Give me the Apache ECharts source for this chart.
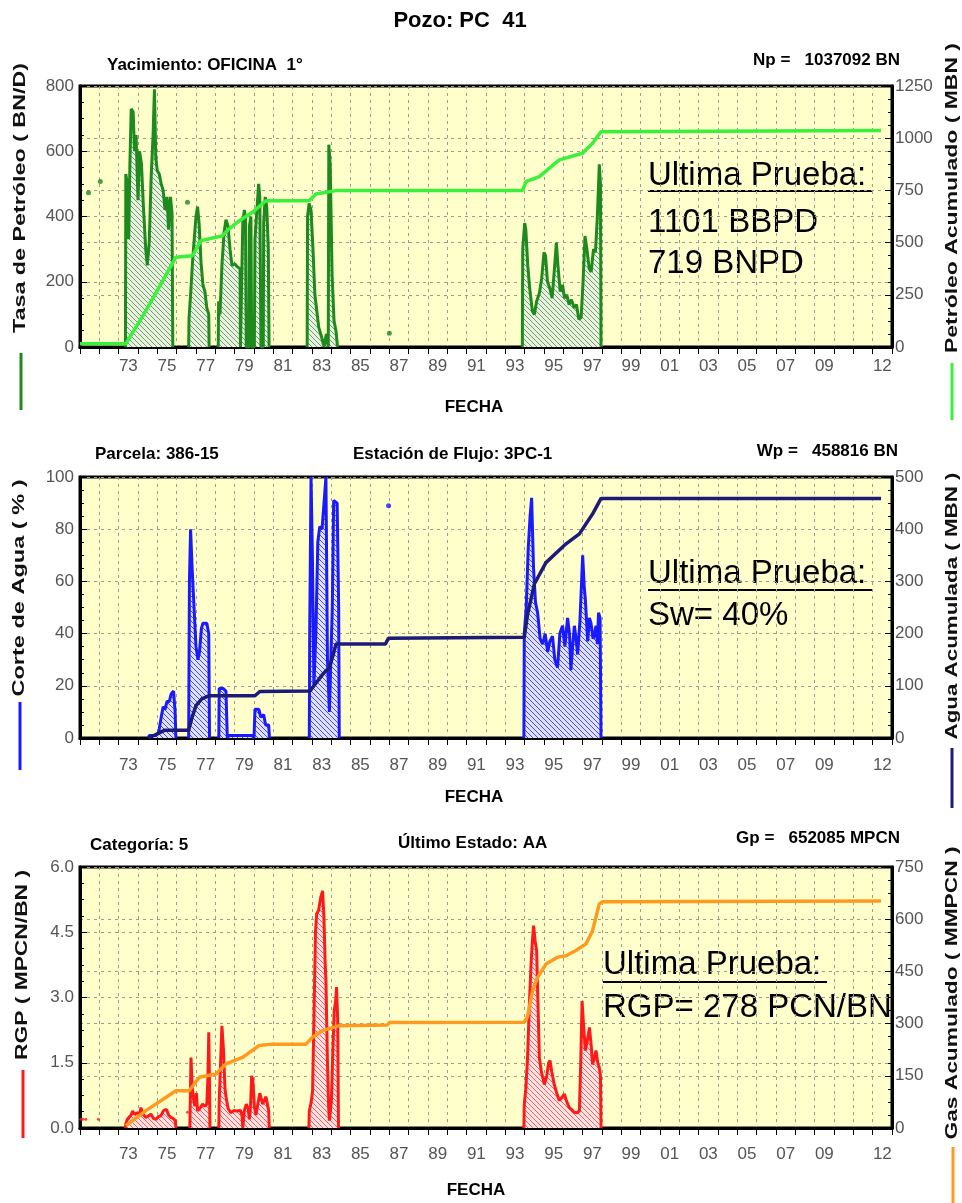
<!DOCTYPE html>
<html lang="es">
<head>
<meta charset="utf-8">
<title>Pozo: PC 41</title>
<script src="https://cdn.jsdelivr.net/npm/echarts@6/dist/echarts.min.js"></script>
<style>
    html, body { margin: 0; padding: 0; background: #fff; }
    #chart { width: 962px; height: 1203px; }
</style>
</head>
<body>
<div id="chart"></div>
<script>
    // ---- eje de fechas ----
    const xLabelYears = [1973, 1975, 1977, 1979, 1981, 1983, 1985, 1987, 1989, 1991, 1993, 1995, 1997, 1999, 2001, 2003, 2005, 2007, 2009, 2012];
    const xLabelText  = ['73', '75', '77', '79', '81', '83', '85', '87', '89', '91', '93', '95', '97', '99', '01', '03', '05', '07', '09', '12'];

    // ---- tasa de petroleo (BN/D), null = sin produccion ----
    const oilYears = [1973.35, 1973.37, 1973.45, 1973.52, 1973.58, 1973.65, 1973.75, 1973.82, 1973.90, 1974.00, 1974.08, 1974.18, 1974.28, 1974.40, 1974.48, 1974.58, 1974.68, 1974.78, 1974.85, 1974.92, 1975.00, 1975.10, 1975.20, 1975.30, 1975.40, 1975.50, 1975.58, 1975.68, 1975.76, 1975.80,
        1976.2,
        1976.62, 1976.64, 1976.72, 1976.82, 1976.92, 1977.00, 1977.08, 1977.16, 1977.26, 1977.36, 1977.46, 1977.56, 1977.66, 1977.68,
        1977.9,
        1978.15, 1978.17, 1978.24, 1978.34, 1978.45, 1978.55, 1978.66, 1978.76, 1978.86, 1979.00, 1979.15, 1979.28, 1979.30,
        1979.40, 1979.42, 1979.50, 1979.56, 1979.60, 1979.74, 1979.76, 1979.84, 1979.88, 1980.02, 1980.05, 1980.15, 1980.24, 1980.30, 1980.36, 1980.48, 1980.50, 1980.58, 1980.66, 1980.74, 1980.78,
        1981.5,
        1982.75, 1982.77, 1982.85, 1982.95, 1983.05, 1983.15, 1983.25, 1983.35, 1983.50, 1983.62, 1983.74, 1983.84, 1983.87, 1983.94, 1984.04, 1984.14, 1984.24, 1984.32,
        1989,
        1993.88, 1993.90, 1994.00, 1994.06, 1994.16, 1994.26, 1994.40, 1994.50, 1994.62, 1994.76, 1994.88, 1995.00, 1995.08, 1995.18, 1995.30, 1995.42, 1995.54, 1995.64, 1995.72, 1995.84, 1995.96, 1996.06, 1996.18, 1996.30, 1996.42, 1996.56, 1996.68, 1996.80, 1996.92, 1997.02, 1997.12, 1997.22, 1997.34, 1997.44, 1997.56, 1997.66, 1997.76, 1997.86, 1997.92, 1997.95];
    const oilRate = [0, 530, 500, 330, 560, 730, 720, 600, 650, 450, 600, 560, 430, 300, 250, 320, 520, 650, 790, 580, 540, 530, 500, 480, 420, 460, 360, 460, 410, 0,
        null,
        0, 90, 160, 260, 340, 400, 430, 380, 260, 190, 170, 120, 100, 0,
        null,
        0, 140, 100, 250, 350, 390, 370, 300, 250, 255, 245, 240, 0,
        0, 380, 420, 400, 0, 0, 370, 400, 0, 0, 330, 420, 500, 460, 0, 0, 380, 460, 430, 300, 0,
        null,
        0, 400, 440, 420, 300, 160, 110, 60, 30, 0, 40, 0, 620, 560, 220, 80, 50, 0,
        null,
        0, 300, 380, 360, 250, 180, 110, 100, 140, 165, 210, 290, 280, 200, 180, 150, 240, 320, 250, 170, 190, 150, 160, 130, 145, 120, 130, 85, 90, 200, 340, 300, 240, 230, 300, 290, 400, 560, 500, 0];
    const oilDotYears = [1971.44, 1972.05, 1976.56, 1987.0];
    const oilDotRate  = [473, 507, 444, 42];

    // ---- petroleo acumulado (MBN) ----
    const cumOilYears = [1971.0, 1973.37, 1974.41, 1975.30, 1975.96, 1976.82, 1977.25, 1978.37, 1978.70, 1979.24, 1979.92, 1980.62, 1982.86, 1983.20, 1984.24, 1993.89, 1994.07, 1994.76, 1995.79, 1996.99, 1997.51, 1997.95, 2012.43];
    const cumOil      = [15, 15, 174, 320, 430, 437, 509, 533, 565, 605, 645, 701, 701, 733, 749, 749, 792, 816, 896, 928, 976, 1031, 1037];

    // ---- corte de agua (%) ----
    const wcYears = [1974.55, 1974.58, 1974.93, 1975.05, 1975.10, 1975.20, 1975.30, 1975.40, 1975.50, 1975.62, 1975.72, 1975.84, 1975.92, 1975.96,
        1976.3,
        1976.62, 1976.66, 1976.72, 1976.80, 1976.90, 1977.00, 1977.10, 1977.18, 1977.28, 1977.36, 1977.56, 1977.66, 1977.70,
        1978.0,
        1978.18, 1978.20, 1978.40, 1978.55, 1978.62, 1978.70, 1979.90, 1980.00, 1980.05, 1980.25, 1980.35, 1980.50, 1980.60, 1980.76, 1980.80,
        1981.5,
        1982.86, 1982.88, 1982.95, 1983.02, 1983.10, 1983.20, 1983.30, 1983.40, 1983.52, 1983.62, 1983.72, 1983.80, 1983.90, 1984.05, 1984.12, 1984.30, 1984.38, 1984.41,
        1989,
        1993.96, 1993.98, 1994.08, 1994.18, 1994.28, 1994.36, 1994.46, 1994.56, 1994.67, 1994.80, 1994.93, 1995.06, 1995.19, 1995.30, 1995.44, 1995.56, 1995.70, 1995.82, 1995.96, 1996.08, 1996.22, 1996.32, 1996.39, 1996.48, 1996.57, 1996.66, 1996.74, 1996.86, 1997.00, 1997.08, 1997.14, 1997.26, 1997.35, 1997.43, 1997.54, 1997.62, 1997.69, 1997.76, 1997.82, 1997.90, 1997.95];
    const waterCut = [0, 1, 1, 2, 3.5, 8, 12, 11, 14, 14, 17, 18, 10, 0,
        null,
        0, 60, 80, 65, 50, 35, 30, 33, 42, 44, 44, 40, 0,
        null,
        0, 19, 19, 18, 0, 1, 1, 0, 11, 11, 8, 9, 5, 5, 0,
        null,
        0, 40, 100, 70, 20, 40, 75, 81, 80, 90, 100, 30, 10, 50, 91, 90, 50, 0,
        null,
        0, 40, 50, 72, 85, 92, 65, 52, 48, 38, 36, 40, 33, 37, 39, 30, 27, 40, 43, 35, 46, 40, 26, 35, 43, 38, 32, 45, 70, 58, 53, 37, 46, 44, 38, 40, 43, 36, 48, 46, 0];
    const wcDotYears = [1986.96];
    const wcDot      = [89];

    // ---- agua acumulada (MBN) ----
    const cumWaterYears = [1974.55, 1975.40, 1976.62, 1976.80, 1977.00, 1977.30, 1977.68, 1980.05, 1980.30, 1982.90, 1983.20, 1983.55, 1983.90, 1984.10, 1984.24, 1986.80, 1986.95, 1993.98, 1994.15, 1994.50, 1995.10, 1996.14, 1996.83, 1997.51, 1997.95, 2012.43];
    const cumWater      = [0, 15, 15, 40, 62, 75, 81, 81, 89, 90, 105, 122, 135, 160, 180, 180, 191, 193, 237, 295, 336, 372, 391, 429, 459, 459];

    // ---- RGP (MPCN/BN) ----
    const rgpYears = [1973.35, 1973.37, 1973.45, 1973.55, 1973.64, 1973.72, 1973.80, 1973.89, 1974.00, 1974.08, 1974.15, 1974.25, 1974.41, 1974.55, 1974.67, 1974.80, 1974.93, 1975.05, 1975.18, 1975.32, 1975.47, 1975.58, 1975.70, 1975.82, 1975.93, 1975.96,
        1976.3,
        1976.68, 1976.70, 1976.74, 1976.80, 1976.86, 1976.94, 1977.02, 1977.08, 1977.20, 1977.34, 1977.46, 1977.56, 1977.62, 1977.66, 1977.70, 1977.72,
        1978.0,
        1978.18, 1978.20, 1978.28, 1978.34, 1978.42, 1978.50, 1978.56, 1978.66, 1978.80, 1978.95, 1979.10, 1979.30, 1979.38, 1979.42, 1979.48, 1979.50, 1979.60, 1979.70, 1979.76, 1979.82, 1979.88, 1979.94, 1980.02, 1980.10, 1980.20, 1980.30, 1980.38, 1980.45, 1980.53, 1980.62, 1980.70, 1980.76, 1980.79,
        1981.5,
        1982.84, 1982.86, 1982.96, 1983.03, 1983.10, 1983.18, 1983.24, 1983.34, 1983.45, 1983.55, 1983.62, 1983.68, 1983.72, 1983.80, 1983.86, 1983.90, 1984.00, 1984.08, 1984.15, 1984.22, 1984.27, 1984.33, 1984.37,
        1989,
        1993.96, 1993.98, 1994.06, 1994.15, 1994.24, 1994.33, 1994.40, 1994.46, 1994.54, 1994.62, 1994.68, 1994.76, 1994.86, 1995.02, 1995.14, 1995.24, 1995.31, 1995.40, 1995.53, 1995.66, 1995.79, 1995.92, 1996.05, 1996.18, 1996.31, 1996.44, 1996.57, 1996.70, 1996.83, 1996.90, 1996.97, 1997.04, 1997.14, 1997.24, 1997.35, 1997.44, 1997.51, 1997.60, 1997.69, 1997.78, 1997.86, 1997.92, 1997.95];
    const rgp = [0, 0.10, 0.20, 0.24, 0.30, 0.39, 0.32, 0.28, 0.35, 0.30, 0.47, 0.32, 0.24, 0.28, 0.32, 0.22, 0.20, 0.26, 0.28, 0.40, 0.43, 0.30, 0.24, 0.22, 0.17, 0,
        null,
        0, 0.5, 1.62, 1.0, 0.7, 0.5, 0.8, 0.40, 0.45, 0.55, 0.50, 0.55, 1.2, 2.2, 1.0, 0,
        null,
        0, 0.6, 1.6, 2.35, 1.8, 0.9, 0.7, 0.45, 0.35, 0.40, 0.39, 0.40, 0.30, 0, 0, 0.40, 0.55, 0.45, 0.20, 0.50, 1.20, 1.10, 0.50, 0.30, 0.55, 0.80, 0.78, 0.55, 0.63, 0.72, 0.70, 0.40, 0,
        null,
        0, 0.39, 0.6, 0.85, 2.5, 4.5, 4.92, 5.0, 5.3, 5.45, 4.8, 3.8, 3.4, 1.5, 0.5, 0.17, 0.6, 1.8, 2.7, 2.9, 3.24, 2.5, 0,
        null,
        0, 0.55, 0.9, 1.62, 2.8, 3.77, 4.3, 4.65, 4.3, 4.08, 3.0, 1.62, 1.3, 1.0, 1.2, 1.5, 1.55, 1.3, 1.0, 0.8, 0.63, 0.7, 0.78, 0.6, 0.47, 0.42, 0.36, 0.35, 0.39, 1.5, 2.92, 2.4, 1.78, 2.0, 2.31, 1.9, 1.46, 1.6, 1.78, 1.5, 1.39, 1.2, 0];
    const rgpDotYears = [1971.05, 1971.15, 1971.30, 1971.95, 1976.56];
    const rgpDot      = [0.2, 0.2, 0.2, 0.2, 0.36];

    // ---- gas acumulado (MMPCN) ----
    const cumGasYears = [1973.37, 1974.41, 1975.96, 1976.65, 1977.17, 1978.03, 1978.55, 1979.41, 1980.27, 1980.96, 1982.69, 1983.03, 1983.55, 1984.41, 1986.90, 1987.00, 1993.98, 1994.15, 1994.41, 1994.67, 1995.10, 1995.70, 1996.14, 1996.65, 1997.17, 1997.51, 1997.86, 1998.03, 2012.43];
    const cumGas      = [7, 50, 107, 107, 146, 155, 184, 203, 237, 241, 241, 261, 280, 294, 296, 303, 304, 320, 395, 433, 471, 491, 495, 510, 529, 567, 644, 650, 652];

    // ---------------------------------------------------------------
    const FONT = "'Liberation Sans', Arial, sans-serif";
    const NARROW = "'Liberation Sans Narrow', 'Liberation Sans', Arial, sans-serif";
    const PLOT_BG = '#FFFFCC';
    const gridTops = [86, 477, 867];

    function pairs(xs, ys) {
        return xs.map((x, i) => [x, ys[i]]);
    }

    // rayado diagonal para el area bajo la curva
    function hatch(bg, fg) {
        const c = document.createElement('canvas');
        c.width = 5; c.height = 5;
        const ctx = c.getContext('2d');
        ctx.fillStyle = bg;
        ctx.fillRect(0, 0, 5, 5);
        ctx.strokeStyle = fg;
        ctx.lineWidth = 1;
        ctx.beginPath();
        ctx.moveTo(0, 0); ctx.lineTo(5, 5);
        ctx.moveTo(-3, 2); ctx.lineTo(3, 8);
        ctx.moveTo(2, -3); ctx.lineTo(8, 3);
        ctx.stroke();
        return { image: c, repeat: 'repeat' };
    }

    const measureCtx = document.createElement('canvas').getContext('2d');

    // texto vertical estirado para ocupar el largo del original
    function vText(text, x, yc, len, size) {
        measureCtx.font = 'bold ' + size + 'px ' + FONT;
        const w = measureCtx.measureText(text).width;
        return {
            type: 'text', x: x, y: yc, rotation: Math.PI / 2, scaleX: len / w,
            style: {
                text: text, fontSize: size, fontWeight: 'bold', fontFamily: FONT, fill: '#111',
                align: 'center', verticalAlign: 'middle', textAlign: 'center', textVerticalAlign: 'middle'
            }
        };
    }

    function hText(text, x, yc, size, align, weight) {
        return {
            type: 'text', x: x, y: yc,
            style: {
                text: text, fontSize: size, fontWeight: weight || 'bold', fontFamily: FONT, fill: '#000',
                align: align || 'left', verticalAlign: 'middle', textAlign: align || 'left', textVerticalAlign: 'middle'
            }
        };
    }

    function vLine(x, y1, y2, color) {
        return { type: 'line', shape: { x1: x, y1: y1, x2: x, y2: y2 }, style: { stroke: color, lineWidth: 3 } };
    }

    function hLine(x1, x2, y) {
        return { type: 'line', shape: { x1: x1, y1: y, x2: x2, y2: y }, style: { stroke: '#000', lineWidth: 2 } };
    }

    const gridLine = { show: true, lineStyle: { color: '#9c9c8c', type: [3, 4], width: 1 } };

    function xAxisFor(i, margin) {
        return {
            type: 'value', gridIndex: i, min: 1971, max: 2013, interval: 1,
            axisLine: { show: true, onZero: false, lineStyle: { color: '#000', width: 3 } },
            axisTick: { show: true, length: 7, lineStyle: { color: '#000', width: 1 } },
            axisLabel: {
                customValues: xLabelYears.map(y => y + 0.5),
                formatter: v => xLabelText[xLabelYears.indexOf(Math.floor(v))],
                color: '#555', fontSize: 17, fontFamily: NARROW, margin: margin
            },
            splitLine: gridLine
        };
    }

    function yAxisFor(i, pos, max, interval, fmt) {
        return {
            type: 'value', gridIndex: i, position: pos, min: 0, max: max, interval: interval,
            axisLine: { show: true, lineStyle: { color: '#000', width: 3 } },
            axisTick: { show: true, inside: true, length: 7, lineStyle: { color: '#000' } },
            minorTick: { show: true, splitNumber: 4, length: 4, lineStyle: { color: '#000' } },
            axisLabel: {
                color: '#555', fontSize: 17, fontFamily: NARROW, margin: pos === 'left' ? 6 : 3,
                formatter: fmt || (v => String(v))
            },
            splitLine: gridLine
        };
    }

    function rateSeries(name, xi, yi, xs, ys, color, bg, fg) {
        return {
            name: name, type: 'line', xAxisIndex: xi, yAxisIndex: yi,
            data: pairs(xs, ys), showSymbol: false, connectNulls: false,
            lineStyle: { color: color, width: 3 },
            itemStyle: { color: color },
            areaStyle: { color: hatch(bg, fg), opacity: 1 },
            z: 3
        };
    }

    function cumSeries(name, xi, yi, xs, ys, color) {
        return {
            name: name, type: 'line', xAxisIndex: xi, yAxisIndex: yi,
            data: pairs(xs, ys), showSymbol: false,
            lineStyle: { color: color, width: 3.5 },
            itemStyle: { color: color },
            z: 4
        };
    }

    function dotSeries(xi, yi, xs, ys, color, size) {
        return {
            type: 'scatter', xAxisIndex: xi, yAxisIndex: yi,
            data: pairs(xs, ys), symbolSize: size, itemStyle: { color: color }, z: 5
        };
    }

    const chart = echarts.init(document.getElementById('chart'), null, { renderer: 'canvas' });

    const option = {
        backgroundColor: '#fff',
        animation: false,
        grid: gridTops.map(t => ({
            left: 80, right: 70, top: t, height: 261,
            show: true, backgroundColor: PLOT_BG, borderColor: '#000', borderWidth: 3
        })),
        xAxis: [xAxisFor(0, 11), xAxisFor(1, 19), xAxisFor(2, 18)],
        yAxis: [
            yAxisFor(0, 'left', 800, 200),
            yAxisFor(0, 'right', 1250, 250),
            yAxisFor(1, 'left', 100, 20),
            yAxisFor(1, 'right', 500, 100),
            yAxisFor(2, 'left', 6, 1.5, v => v.toFixed(1)),
            yAxisFor(2, 'right', 750, 150)
        ],
        series: [
            rateSeries('Tasa de Petróleo', 0, 0, oilYears, oilRate, '#1E8A1E', '#e8f2de', '#6e9e6e'),
            dotSeries(0, 0, oilDotYears, oilDotRate, '#1E8A1E', 5),
            cumSeries('Petróleo Acumulado', 0, 1, cumOilYears, cumOil, '#3AF03A'),

            rateSeries('Corte de Agua', 1, 2, wcYears, waterCut, '#1A1AFF', '#dfe2ff', '#4848ff'),
            dotSeries(1, 2, wcDotYears, wcDot, '#1A1AFF', 5),
            cumSeries('Agua Acumulada', 1, 3, cumWaterYears, cumWater, '#1C1C78'),

            rateSeries('RGP', 2, 4, rgpYears, rgp, '#FF1A1A', '#ffe4e4', '#ff5a5a'),
            dotSeries(2, 4, rgpDotYears, rgpDot, '#FF1A1A', 3),
            cumSeries('Gas Acumulado', 2, 5, cumGasYears, cumGas, '#FF9A20')
        ],
        graphic: [
            hText('Pozo: PC  41', 460, 21, 22, 'center'),

            hText('Yacimiento: OFICINA  1°', 107, 65, 17),
            hText('Np =   1037092 BN', 900, 60, 17, 'right'),
            vText('Tasa de Petróleo ( BN/D)', 21, 198, 270, 16),
            vLine(21, 353, 410, '#1E8A1E'),
            vText('Petróleo Acumulado ( MBN )', 953, 198, 310, 16),
            vLine(952, 363, 420, '#3AF03A'),
            hText('FECHA', 474, 407, 17, 'center'),
            hText('Ultima Prueba:', 648, 176, 33, 'left', 'normal'),
            hLine(648, 873, 191),
            hText('1101 BBPD', 648, 223, 33, 'left', 'normal'),
            hText('719 BNPD', 648, 264, 33, 'left', 'normal'),

            hText('Parcela: 386-15', 95, 454, 17),
            hText('Estación de Flujo: 3PC-1', 353, 454, 17),
            hText('Wp =   458816 BN', 898, 451, 17, 'right'),
            vText('Corte de Agua ( % )', 20, 588, 217, 16),
            vLine(20, 702, 770, '#1A1AFF'),
            vText('Agua Acumulada ( MBN )', 953, 606, 267, 16),
            vLine(952, 748, 808, '#1C1C78'),
            hText('FECHA', 474, 797, 17, 'center'),
            hText('Ultima Prueba:', 648, 574, 33, 'left', 'normal'),
            hLine(648, 873, 590),
            hText('Sw= 40%', 648, 616, 33, 'left', 'normal'),

            hText('Categoría: 5', 90, 845, 17),
            hText('Último Estado: AA', 398, 843, 17),
            hText('Gp =   652085 MPCN', 900, 838, 17, 'right'),
            vText('RGP ( MPCN/BN )', 23, 965, 190, 16),
            vLine(23, 1070, 1138, '#FF1A1A'),
            vText('Gas Acumulado ( MMPCN )', 953, 993, 293, 16),
            vLine(953, 1147, 1203, '#FF9A20'),
            hText('FECHA', 476, 1190, 17, 'center'),
            hText('Ultima Prueba:', 603, 965, 33, 'left', 'normal'),
            hLine(603, 827, 982),
            hText('RGP= 278 PCN/BN', 603, 1008, 33, 'left', 'normal')
        ]
    };

    chart.setOption(option);
</script>
</body>
</html>
